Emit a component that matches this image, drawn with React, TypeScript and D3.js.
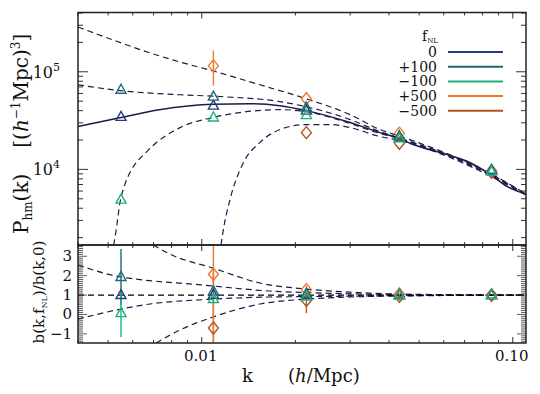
import React from 'react';
import * as d3 from 'd3';

// ---------- data ----------
const K_PTS = [0.0055, 0.0109, 0.0217, 0.0432, 0.0855];

const P_F0 = [3.45e4, 4.5e4, 4.0e4, 2.12e4, 9.7e3];
const P_P100 = [6.55e4, 5.56e4, 4.3e4, 2.2e4, 9.9e3];
const P_M100 = [4.9e3, 3.4e4, 3.6e4, 2.08e4, 9.5e3];
const P_P500 = [null, 1.15e5, 5.3e4, 2.35e4, 9.7e3];
const P_M500 = [null, null, 2.38e4, 1.85e4, 9.3e3];
const P_P500_LO = [null, 7.2e4, null, null, null];
const P_P500_HI = [null, 1.65e5, null, null, null];

const R_F0 = [1.0, 1.02, 1.0, 1.0, 1.0];
const R_P100 = [1.93, 1.2, 1.07, 1.02, 1.0];
const R_M100 = [0.07, 0.8, 0.93, 0.98, 1.0];
const R_P500 = [null, 2.07, 1.28, 1.06, 1.02];
const R_M500 = [null, -0.7, 0.72, 0.93, 0.98];
const R_P100_ERR = [1.44, 0.15, 0.05, 0, 0];
const R_M100_ERR = [1.23, 0.15, 0.05, 0, 0];
const R_P500_ERR = [null, 3.5, 0.2, 0.05, 0];
const R_M500_ERR = [null, 3.0, 0.65, 0.1, 0];

// model curves (top panel)
const SOLID_K = [0.004, 0.0055, 0.0073, 0.0109, 0.0143, 0.0178, 0.0217, 0.030, 0.0374, 0.0431, 0.0478, 0.0615, 0.0713, 0.0845, 0.0958, 0.1103];
const SOLID_P = [2.75e4, 3.4e4, 4.09e4, 4.66e4, 4.71e4, 4.5e4, 4.0e4, 3.02e4, 2.38e4, 2.07e4, 1.8e4, 1.42e4, 1.21e4, 8.9e3, 6.7e3, 5.57e3];

const P500_K = [0.004, 0.00518, 0.00682, 0.00851, 0.01087, 0.01539, 0.02164, 0.030, 0.0374, 0.0431, 0.0615, 0.0851, 0.1103];
const P500_P = [2.88e5, 2.12e5, 1.56e5, 1.26e5, 1.02e5, 7.36e4, 5.3e4, 3.64e4, 2.56e4, 2.2e4, 1.45e4, 9.0e3, 5.6e3];

const P100_K = [0.004, 0.0055, 0.00851, 0.01087, 0.01785, 0.02164, 0.030, 0.0374, 0.0431, 0.0615, 0.0851, 0.1103];
const P100_P = [7.36e4, 6.4e4, 5.82e4, 5.62e4, 4.94e4, 4.39e4, 3.24e4, 2.44e4, 2.1e4, 1.42e4, 8.9e3, 5.57e3];

const M100_K = [0.00521, 0.0053, 0.00546, 0.00566, 0.00588, 0.00667, 0.00851, 0.01087, 0.01785, 0.02164, 0.030, 0.0374, 0.0431, 0.0615, 0.0851, 0.1103];
const M100_P = [1.68e3, 2.33e3, 4.61e3, 7.03e3, 9.3e3, 1.53e4, 2.68e4, 3.4e4, 4.09e4, 3.91e4, 2.95e4, 2.33e4, 2.07e4, 1.39e4, 8.7e3, 5.57e3];

const M500_K = [0.01153, 0.0117, 0.01233, 0.01357, 0.01539, 0.01785, 0.02164, 0.02584, 0.030, 0.0374, 0.0431, 0.0615, 0.0851, 0.1103];
const M500_P = [1.68e3, 2.28e3, 4.94e3, 1.15e4, 1.89e4, 2.56e4, 2.88e4, 2.88e4, 2.68e4, 2.17e4, 1.98e4, 1.36e4, 8.5e3, 5.45e3];

// model curves (bottom panel, bias ratio)
const RP500_K = [0.00698, 0.0079, 0.01087, 0.01539, 0.02164, 0.030, 0.0431, 0.1103];
const RP500_R = [3.58, 3.11, 2.39, 1.62, 1.31, 1.15, 1.05, 1.0];
const RP100_K = [0.004, 0.0055, 0.00617, 0.01003, 0.01647, 0.02164, 0.0431, 0.1103];
const RP100_R = [2.55, 1.93, 1.82, 1.52, 1.21, 1.13, 1.03, 1.0];
const RM100_K = [0.004, 0.0055, 0.00682, 0.01087, 0.01647, 0.02164, 0.0431, 0.1103];
const RM100_R = [-0.24, 0.28, 0.54, 0.79, 0.9, 0.92, 0.97, 1.0];
const RM500_K = [0.00713, 0.00851, 0.01087, 0.01539, 0.02164, 0.030, 0.0431, 0.1103];
const RM500_R = [-1.47, -0.8, -0.13, 0.54, 0.79, 0.9, 0.95, 1.0];
const R0_K = [0.004, 0.1103];
const R0_R = [1.0, 1.0];

const LEGEND_LABELS = ['0', '+100', '\u2212100', '+500', '\u2212500'];
const X_TICK_LABELS = ['0.01', '0.10'];
const Y_TOP_TICK_EXP = ['5', '4'];
const Y_BOT_TICK_LABELS = ['3', '2', '1', '0', '\u22121'];

// ---------- layout ----------
const W = 540, H = 394;
const L = 78, R = 526, T1 = 12.5, B1 = 245, B2 = 343;

const C_NAVY = '#2a3a7e';
const C_TEAL = '#1d6a72';
const C_GREEN = '#1fb080';
const C_ORANGE = '#ee7a30';
const C_DORANGE = '#b4531d';
const C_CURVE = '#1c1c48';
const FONT = '"DejaVu Serif", serif';

const x = d3.scaleLog().domain([0.004, 0.1103]).range([L, R]);
const yT = d3.scaleLog().domain([1680, 4.05e5]).range([B1, T1]);
const yB = d3.scaleLinear().domain([-1.47, 3.58]).range([B2, B1]);

const zip = (a: number[], b: number[]) => a.map((v, i) => [v, b[i]] as [number, number]);

const lineT = d3.line<[number, number]>().x(d => x(d[0])).y(d => yT(d[1])).curve(d3.curveMonotoneX);
const lineB = d3.line<[number, number]>().x(d => x(d[0])).y(d => yB(d[1])).curve(d3.curveMonotoneX);

const tri = (cx: number, cy: number) => `M${cx},${cy - 5.5}L${cx + 5},${cy + 3.5}L${cx - 5},${cy + 3.5}Z`;
const dia = (cx: number, cy: number) => `M${cx},${cy - 6}L${cx + 5},${cy}L${cx},${cy + 6}L${cx - 5},${cy}Z`;

export default function App() {
  const xTicks = x.ticks(20).filter(t => t >= 0.004 && t <= 0.1103);
  const isMajorX = (t: number) => Math.abs(Math.log10(t) - Math.round(Math.log10(t))) < 1e-6;
  const yTicks = yT.ticks(20);
  const isMajorY = (t: number) => Math.abs(Math.log10(t) - Math.round(Math.log10(t))) < 1e-6;
  const yBTicks = d3.range(-14, 36).map(i => i / 10);

  const ticksX = (yAxis: number, dir: number) =>
    xTicks.map((t, i) => {
      const len = isMajorX(t) ? 6 : 3;
      return <line key={i} x1={x(t)} x2={x(t)} y1={yAxis} y2={yAxis + dir * len} stroke="#333" strokeWidth={1} />;
    });

  const markers = (vals: (number | null)[], sc: (v: number) => number, shape: typeof tri, color: string) =>
    vals.map((v, i) => (v == null ? null : <path key={i} d={shape(x(K_PTS[i]), sc(v))} fill="none" stroke={color} strokeWidth={1.4} />));

  const errBarsB = (vals: (number | null)[], errs: (number | null)[], color: string) =>
    vals.map((v, i) => {
      const e = errs[i];
      if (v == null || e == null || e === 0) return null;
      return <line key={i} x1={x(K_PTS[i])} x2={x(K_PTS[i])} y1={yB(v - e)} y2={yB(v + e)} stroke={color} strokeWidth={1.4} />;
    });

  return (
    <svg width={W} height={H} style={{ position: 'absolute', left: 0, top: 0, background: '#fff' }} fontFamily={FONT}>
      <defs>
        <clipPath id="cpT"><rect x={L} y={T1} width={R - L} height={B1 - T1} /></clipPath>
        <clipPath id="cpB"><rect x={L} y={B1} width={R - L} height={B2 - B1} /></clipPath>
      </defs>

      {/* top panel curves */}
      <g clipPath="url(#cpT)" fill="none">
        {[zip(P500_K, P500_P), zip(P100_K, P100_P), zip(M100_K, M100_P), zip(M500_K, M500_P)].map((d, i) => (
          <path key={i} d={lineT(d) || ''} stroke={C_CURVE} strokeWidth={1.2} strokeDasharray="6,4" />
        ))}
        <path d={lineT(zip(SOLID_K, SOLID_P)) || ''} stroke={C_CURVE} strokeWidth={1.5} />
        {P_P500.map((v, i) => (P_P500_LO[i] == null ? null : (
          <line key={i} x1={x(K_PTS[i])} x2={x(K_PTS[i])} y1={yT(P_P500_LO[i] as number)} y2={yT(P_P500_HI[i] as number)} stroke={C_ORANGE} strokeWidth={1.4} />
        )))}
        {markers(P_P500, yT, dia, C_ORANGE)}
        {markers(P_M500, yT, dia, C_DORANGE)}
        {markers(P_F0, yT, tri, C_NAVY)}
        {markers(P_P100, yT, tri, C_TEAL)}
        {markers(P_M100, yT, tri, C_GREEN)}
      </g>

      {/* bottom panel curves */}
      <g clipPath="url(#cpB)" fill="none">
        {[zip(RP500_K, RP500_R), zip(RP100_K, RP100_R), zip(RM100_K, RM100_R), zip(RM500_K, RM500_R)].map((d, i) => (
          <path key={i} d={lineB(d) || ''} stroke={C_CURVE} strokeWidth={1.2} strokeDasharray="6,4" />
        ))}
        <path d={lineB(zip(R0_K, R0_R)) || ''} stroke="#000" strokeWidth={1.2} strokeDasharray="6,4" />
        {errBarsB(R_M500, R_M500_ERR, C_DORANGE)}
        {errBarsB(R_P500, R_P500_ERR, C_ORANGE)}
        {errBarsB(R_P100, R_P100_ERR, C_TEAL)}
        {errBarsB(R_M100, R_M100_ERR, C_GREEN)}
        {markers(R_P500, yB, dia, C_ORANGE)}
        {markers(R_M500, yB, dia, C_DORANGE)}
        {markers(R_F0, yB, tri, C_NAVY)}
        {markers(R_P100, yB, tri, C_TEAL)}
        {markers(R_M100, yB, tri, C_GREEN)}
      </g>

      {/* ticks */}
      <g>
        {ticksX(T1, 1)}
        {ticksX(B1, -1)}
        {ticksX(B1, 1)}
        {ticksX(B2, -1)}
        {yTicks.map((t, i) => {
          const len = isMajorY(t) ? 10 : 5;
          return (
            <g key={i}>
              <line x1={L} x2={L + len} y1={yT(t)} y2={yT(t)} stroke="#333" />
              <line x1={R} x2={R - len} y1={yT(t)} y2={yT(t)} stroke="#333" />
            </g>
          );
        })}
        {yBTicks.map((t, i) => {
          const major = Math.abs(t - Math.round(t)) < 1e-6;
          const len = major ? 9 : 5;
          return (
            <g key={i}>
              <line x1={L} x2={L + len} y1={yB(t)} y2={yB(t)} stroke="#333" strokeWidth={0.8} />
              <line x1={R} x2={R - len} y1={yB(t)} y2={yB(t)} stroke="#333" strokeWidth={0.8} />
            </g>
          );
        })}
      </g>

      {/* frames */}
      <rect x={L} y={T1} width={R - L} height={B1 - T1} fill="none" stroke="#222" strokeWidth={1.5} />
      <rect x={L} y={B1} width={R - L} height={B2 - B1} fill="none" stroke="#222" strokeWidth={1.5} />

      {/* tick labels */}
      {[0.01, 0.1].map((t, i) => (
        <text key={i} x={x(t) - 1} y={361} fontSize={15} textAnchor="middle" fill="#111">{X_TICK_LABELS[i]}</text>
      ))}
      {[1e5, 1e4].map((t, i) => (
        <text key={i} x={60} y={yT(t) + 6} fontSize={16} textAnchor="end" fill="#111">10
          <tspan fontSize={11} dy={-7}>{Y_TOP_TICK_EXP[i]}</tspan>
        </text>
      ))}
      {[3, 2, 1, 0, -1].map((t, i) => (
        <text key={i} x={72} y={yB(t) + 5} fontSize={15} textAnchor="end" fill="#111">{Y_BOT_TICK_LABELS[i]}</text>
      ))}

      {/* axis titles */}
      <text x={242} y={382} fontSize={18} fill="#111">k</text>
      <text x={288} y={382} fontSize={18} fill="#111">(<tspan fontStyle="italic">h</tspan>/Mpc)</text>

      <text transform="translate(28,234) rotate(-90)" fontSize={20} fill="#111">
        P<tspan fontSize={12} dy={4}>hm</tspan><tspan dy={-4}>(k)</tspan>
        <tspan dx={26}>[(</tspan><tspan fontStyle="italic">h</tspan><tspan fontSize={12} dy={-8}>{'\u22121'}</tspan><tspan dy={8}>Mpc)</tspan><tspan fontSize={12} dy={-8}>3</tspan><tspan dy={8}>]</tspan>
      </text>

      <text transform="translate(44,292) rotate(-90)" fontSize={15} textAnchor="middle" fill="#111">
        b(k,f<tspan fontSize={8} dy={3}>NL</tspan><tspan dy={-3}>)/b(k,0)</tspan>
      </text>

      {/* legend */}
      <text x={422} y={41} fontSize={14} fill="#111">f<tspan fontSize={7} dy={2}>NL</tspan></text>
      {[C_NAVY, C_TEAL, C_GREEN, C_ORANGE, C_DORANGE].map((c, i) => {
        const yy = 52 + i * 14.7;
        return (
          <g key={i}>
            <text x={437} y={yy + 5} fontSize={14} textAnchor="end" fill="#111">{LEGEND_LABELS[i]}</text>
            <line x1={448} x2={503} y1={yy} y2={yy} stroke={c} strokeWidth={2} />
          </g>
        );
      })}
    </svg>
  );
}
